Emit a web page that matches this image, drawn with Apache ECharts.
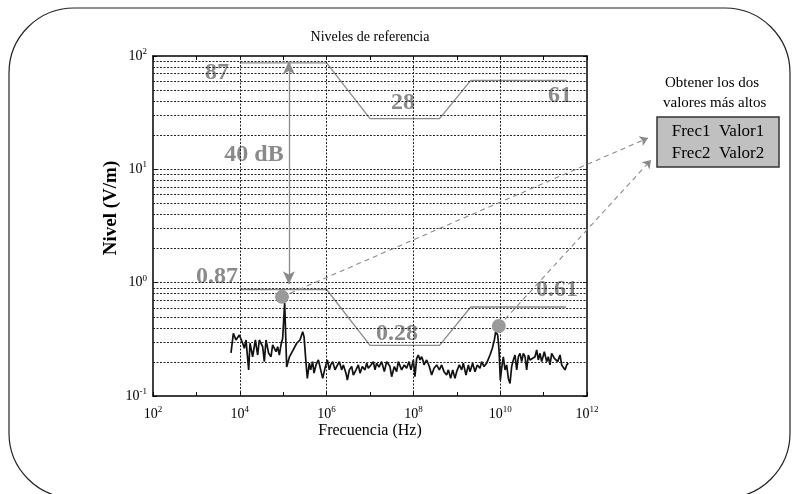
<!DOCTYPE html>
<html><head><meta charset="utf-8">
<script src="https://cdn.jsdelivr.net/npm/echarts@6/dist/echarts.min.js"></script>
<style>html,body{margin:0;padding:0;background:#fff}#c{width:792px;height:494px}</style>
</head><body><div id="c"></div>
<script>
// ---- data ----
const noiseFreq = [6.27e3,7.10e3,8.17e3,9.75e3,1.164e4,1.271e4,1.39e4,1.60e4,1.718e4,1.977e4,2.28e4,2.582e4,2.818e4,3.365e4,3.673e4,4.018e4,4.624e4,5.236e4,5.715e4,6.823e4,7.447e4,8.147e4,8.892e4,9.727e4,1.081e5,1.202e5,1.384e5,1.652e5,2.046e5,2.438e5,2.812e5,3.02e5,3.357e5,3.597e5,4.0e5,4.295e5,4.775e5,5.129e5,5.702e5,6.457e5,7.311e5,8.128e5,9.183e5,1.04e6,1.156e6,1.242e6,1.38e6,1.563e6,1.706e6,1.968e6,2.223e6,2.432e6,2.799e6,3.006e6,3.342e6,3.784e6,4.13e6,4.764e6,5.383e6,5.888e6,6.653e6,7.656e6,8.375e6,9.141e6,1.054e7,1.191e7,1.303e7,1.422e7,1.611e7,1.854e7,2.138e7,2.421e7,2.642e7,2.884e7,3.155e7,3.631e7,4.111e7,4.487e7,5.358e7,6.18e7,6.982e7,7.907e7,8.79e7,9.954e7,1.086e8,1.189e8,1.297e8,1.419e8,1.549e8,1.694e8,1.754e8,2.023e8,2.328e8,2.636e8,2.985e8,3.436e8,3.954e8,4.477e8,5.07e8,5.834e8,6.383e8,7.228e8,8.035e8,9.078e8,9.931e8,1.143e9,1.294e9,1.413e9,1.629e9,1.845e9,2.014e9,2.317e9,2.624e9,2.972e9,3.42e9,3.741e9,4.236e9,4.875e9,5.333e9,5.821e9,6.592e9,7.328e9,7.87e9,8.75e9,9.397e9,1.007e10,1.081e10,1.18e10,1.291e10,1.409e10,1.542e10,1.683e10,1.837e10,2.009e10,2.193e10,2.399e10,2.618e10,2.858e10,3.126e10,3.412e10,3.733e10,4.074e10,4.446e10,4.864e10,5.309e10,6.339e10,6.918e10,7.568e10,8.26e10,9.036e10,1.04e11,1.178e11,1.285e11,1.406e11,1.535e11,1.77e11,1.897e11,2.109e11,2.388e11,2.612e11,2.851e11,3.112e11,3.404e11,3.715e11];
const noiseLevel = [0.24,0.357,0.312,0.345,0.292,0.264,0.312,0.170,0.292,0.222,0.312,0.230,0.312,0.272,0.201,0.312,0.238,0.222,0.282,0.246,0.272,0.230,0.282,0.323,0.66,0.18,0.22,0.25,0.292,0.312,0.369,0.334,0.195,0.143,0.195,0.170,0.201,0.159,0.188,0.208,0.170,0.143,0.176,0.208,0.170,0.188,0.201,0.170,0.182,0.201,0.170,0.188,0.159,0.138,0.170,0.182,0.153,0.170,0.188,0.159,0.182,0.170,0.195,0.176,0.188,0.201,0.170,0.195,0.180,0.201,0.164,0.201,0.208,0.182,0.148,0.182,0.164,0.201,0.170,0.188,0.176,0.201,0.170,0.208,0.148,0.215,0.230,0.208,0.222,0.201,0.188,0.208,0.182,0.153,0.176,0.188,0.170,0.188,0.164,0.153,0.170,0.143,0.170,0.143,0.164,0.188,0.170,0.195,0.153,0.188,0.164,0.195,0.164,0.188,0.176,0.201,0.182,0.195,0.201,0.230,0.264,0.312,0.369,0.345,0.255,0.138,0.176,0.222,0.170,0.188,0.143,0.129,0.182,0.208,0.230,0.170,0.222,0.238,0.201,0.238,0.222,0.170,0.230,0.208,0.215,0.222,0.255,0.208,0.238,0.201,0.246,0.201,0.222,0.188,0.238,0.215,0.222,0.201,0.230,0.188,0.195,0.170,0.188,0.195];
const upperLimitFreq = [1e4, 1e6, 1e7, 4e8, 2.1e9, 3.4e11];
const upperLimit = [87, 87, 28, 28, 61, 61];
const lowerLimitFreq = [1e4, 1e6, 1e7, 4e8, 2.1e9, 3.3e11];
const lowerLimit = [0.87, 0.87, 0.28, 0.28, 0.61, 0.61];
const peakFreq = [9.4e4, 9.3e9];
const peakLevel = [0.75, 0.415];
const arrowFreq = 1.35e5;
const arrowTop = 90;
const arrowBottom = 0.97;
const gridLevels = [0.2,0.3,0.4,0.5,0.6,0.7,0.8,0.9,1,2,3,4,5,6,7,8,9,10,20,30,40,50,60,70,80,90];
const gridFreqs = [1e4, 1e6, 1e8, 1e10];
const limitLabels = ['87', '28', '61', '0.87', '0.28', '0.61'];
const dbLabel = '40 dB';
const boxLines = ['Frec1  Valor1', 'Frec2  Valor2'];
const boxTitle = ['Obtener los dos', 'valores más altos'];
const titleText = 'Niveles de referencia';
const xName = 'Frecuencia (Hz)';
const yName = 'Nivel (V/m)';

// ---- chart ----
const SERIF = '"Liberation Serif", "DejaVu Serif", serif';
const GRAY = '#8a8a8a';
const chart = echarts.init(document.getElementById('c'), null, {renderer: 'canvas'});
const pairs = (xs, ys) => xs.map((x, i) => [x, ys[i]]);
function powLabel(v, evenOnly) {
  const e = Math.round(Math.log10(v));
  if (evenOnly && e % 2 !== 0) return '';
  return '{b|10}{s|' + e + '}';
}
const rich = {
  b: {fontFamily: SERIF, fontSize: 14, color: '#000', lineHeight: 18},
  s: {fontFamily: SERIF, fontSize: 9, color: '#000', verticalAlign: 'top', lineHeight: 10}
};
const axisCommon = {
  type: 'log', logBase: 10, interval: 1,
  axisLine: {show: true, onZero: false, lineStyle: {color: '#000', width: 1.5}},
  axisTick: {show: true, inside: true, length: 4, lineStyle: {color: '#000', width: 1}},
  splitLine: {show: false}
};
const option = {
  animation: false,
  backgroundColor: '#fff',
  grid: {left: 153, right: 205, top: 56, bottom: 98, containLabel: false},
  xAxis: [
    Object.assign({}, axisCommon, {min: 1e2, max: 1e12, position: 'bottom',
      axisLabel: {margin: 9, formatter: v => powLabel(v, true), rich: rich}}),
    Object.assign({}, axisCommon, {min: 1e2, max: 1e12, position: 'top', axisLabel: {show: false}})
  ],
  yAxis: [
    Object.assign({}, axisCommon, {min: 0.1, max: 100, position: 'left',
      axisLabel: {margin: 6, formatter: v => powLabel(v, false), rich: rich}}),
    Object.assign({}, axisCommon, {min: 0.1, max: 100, position: 'right', axisLabel: {show: false}})
  ],
  series: [
    {
      type: 'line', data: [], z: 1, silent: true,
      markLine: {
        silent: true, symbol: ['none', 'none'], label: {show: false}, animation: false,
        lineStyle: {color: '#222', width: 1, type: [2, 1.5]},
        data: gridLevels.map(v => ({yAxis: v})).concat(gridFreqs.map(f => ({xAxis: f})))
      }
    },
    {type: 'line', data: pairs(upperLimitFreq, upperLimit), symbol: 'none', z: 2,
      lineStyle: {color: GRAY, width: 1.3}},
    {type: 'line', data: pairs(lowerLimitFreq, lowerLimit), symbol: 'none', z: 2,
      lineStyle: {color: GRAY, width: 1.3}},
    {type: 'line', data: pairs(noiseFreq, noiseLevel), symbol: 'none', z: 4,
      lineStyle: {color: '#111', width: 1.7}},
    {
      type: 'scatter', data: pairs(peakFreq, peakLevel), symbolSize: 14, z: 5, clip: false,
      itemStyle: {color: '#9a9a9a', opacity: 1},
      markLine: {
        silent: true, animation: false, label: {show: false},
        data: [
          [{coord: [peakFreq[0], peakLevel[0]], symbol: 'none'}, {x: 648, y: 138, symbol: 'arrow', symbolSize: 8}],
          [{coord: [peakFreq[1], peakLevel[1]], symbol: 'none'}, {x: 651, y: 160, symbol: 'arrow', symbolSize: 8}]
        ],
        lineStyle: {color: GRAY, width: 1.1, type: [5, 4]}
      }
    },
    {
      type: 'line', data: [], z: 3, silent: true, clip: false,
      markLine: {
        silent: true, animation: false, label: {show: false},
        symbol: ['arrow', 'arrow'], symbolSize: [9, 13],
        lineStyle: {color: GRAY, width: 1.3, type: 'solid'},
        data: [[{coord: [arrowFreq, arrowBottom]}, {coord: [arrowFreq, arrowTop]}]]
      }
    }
  ],
  graphic: [
    {type: 'rect', shape: {x: 9, y: 8, width: 781, height: 490, r: 65}, silent: true,
      style: {fill: 'none', stroke: '#222', lineWidth: 1.2}, z: -10},
    {type: 'text', x: 370, y: 37, style: {text: titleText, font: '14px ' + SERIF, fill: '#000', textAlign: 'center', textVerticalAlign: 'middle'}},
    {type: 'text', x: 370, y: 431, style: {text: xName, font: '16px ' + SERIF, fill: '#000', textAlign: 'center', textVerticalAlign: 'middle'}},
    {type: 'text', x: 111, y: 208, rotation: Math.PI / 2, style: {text: yName, font: 'bold 19px ' + SERIF, fill: '#000', textAlign: 'center', textVerticalAlign: 'middle'}},
    {type: 'text', x: 217, y: 73, style: {text: limitLabels[0], font: 'bold 24px ' + SERIF, fill: GRAY, textAlign: 'center', textVerticalAlign: 'middle'}},
    {type: 'text', x: 403, y: 103, style: {text: limitLabels[1], font: 'bold 24px ' + SERIF, fill: GRAY, textAlign: 'center', textVerticalAlign: 'middle'}},
    {type: 'text', x: 560, y: 96, style: {text: limitLabels[2], font: 'bold 24px ' + SERIF, fill: GRAY, textAlign: 'center', textVerticalAlign: 'middle'}},
    {type: 'text', x: 217, y: 277, style: {text: limitLabels[3], font: 'bold 24px ' + SERIF, fill: GRAY, textAlign: 'center', textVerticalAlign: 'middle'}},
    {type: 'text', x: 397, y: 334, style: {text: limitLabels[4], font: 'bold 24px ' + SERIF, fill: GRAY, textAlign: 'center', textVerticalAlign: 'middle'}},
    {type: 'text', x: 557, y: 290, style: {text: limitLabels[5], font: 'bold 24px ' + SERIF, fill: GRAY, textAlign: 'center', textVerticalAlign: 'middle'}},
    {type: 'text', x: 254, y: 155, style: {text: dbLabel, font: 'bold 24px ' + SERIF, fill: GRAY, textAlign: 'center', textVerticalAlign: 'middle'}},
    {type: 'text', x: 665, y: 83, style: {text: boxTitle[0], font: '15px ' + SERIF, fill: '#000', textAlign: 'left', textVerticalAlign: 'middle'}},
    {type: 'text', x: 663, y: 103, style: {text: boxTitle[1], font: '15px ' + SERIF, fill: '#000', textAlign: 'left', textVerticalAlign: 'middle'}},
    {type: 'rect', shape: {x: 657, y: 117, width: 122, height: 50}, style: {fill: '#c0c0c0', stroke: '#333', lineWidth: 1.5}},
    {type: 'text', x: 718, y: 132, style: {text: boxLines[0], font: '17px ' + SERIF, fill: '#000', textAlign: 'center', textVerticalAlign: 'middle'}},
    {type: 'text', x: 718, y: 154, style: {text: boxLines[1], font: '17px ' + SERIF, fill: '#000', textAlign: 'center', textVerticalAlign: 'middle'}}
  ]
};
chart.setOption(option);
</script>
</body></html>
